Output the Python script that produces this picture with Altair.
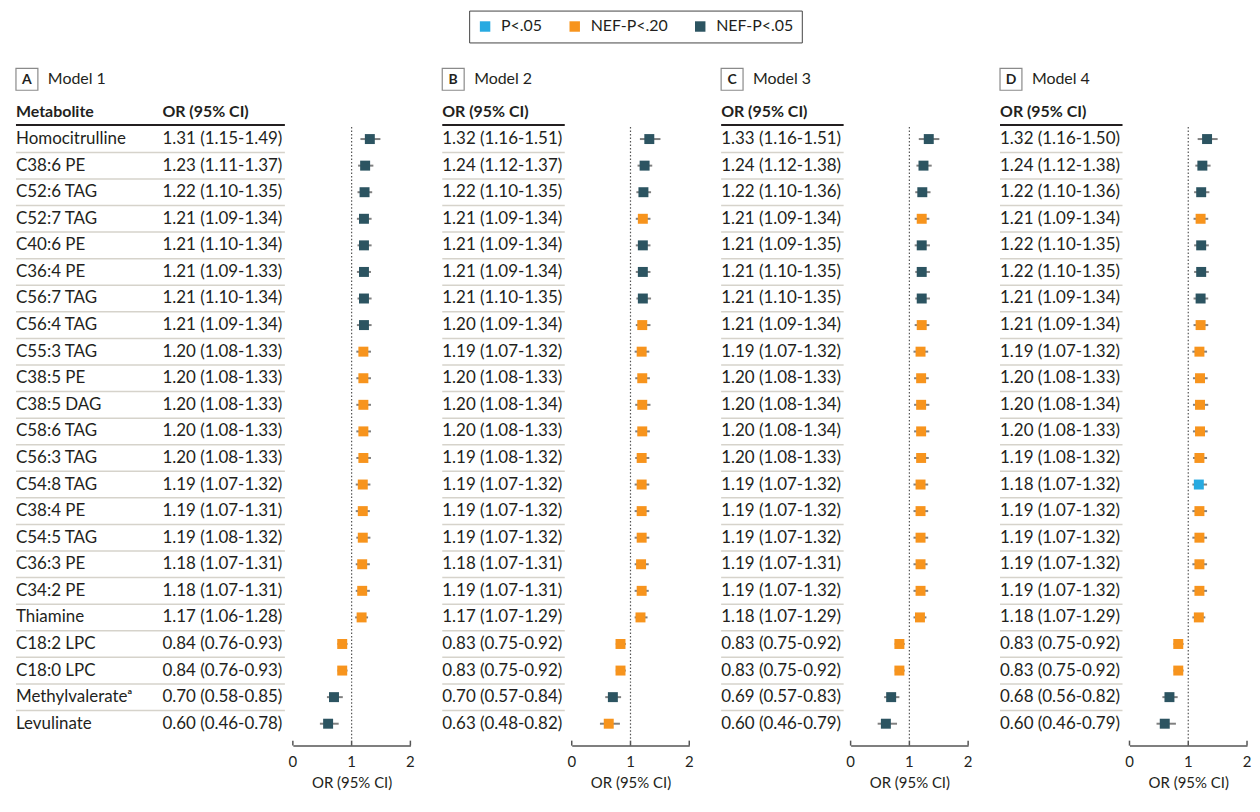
import altair as alt
import pandas as pd

# ---------------- data ----------------
metabolites = [
    "Homocitrulline", "C38:6 PE", "C52:6 TAG", "C52:7 TAG", "C40:6 PE", "C36:4 PE",
    "C56:7 TAG", "C56:4 TAG", "C55:3 TAG", "C38:5 PE", "C38:5 DAG", "C58:6 TAG",
    "C56:3 TAG", "C54:8 TAG", "C38:4 PE", "C54:5 TAG", "C36:3 PE", "C34:2 PE",
    "Thiamine", "C18:2 LPC", "C18:0 LPC", "Methylvalerate\u1d43", "Levulinate",
]

or_m1 = [1.31, 1.23, 1.22, 1.21, 1.21, 1.21, 1.21, 1.21, 1.20, 1.20, 1.20, 1.20, 1.20, 1.19, 1.19, 1.19, 1.18, 1.18, 1.17, 0.84, 0.84, 0.70, 0.60]
lo_m1 = [1.15, 1.11, 1.10, 1.09, 1.10, 1.09, 1.10, 1.09, 1.08, 1.08, 1.08, 1.08, 1.08, 1.07, 1.07, 1.08, 1.07, 1.07, 1.06, 0.76, 0.76, 0.58, 0.46]
hi_m1 = [1.49, 1.37, 1.35, 1.34, 1.34, 1.33, 1.34, 1.34, 1.33, 1.33, 1.33, 1.33, 1.33, 1.32, 1.31, 1.32, 1.31, 1.31, 1.28, 0.93, 0.93, 0.85, 0.78]

or_m2 = [1.32, 1.24, 1.22, 1.21, 1.21, 1.21, 1.21, 1.20, 1.19, 1.20, 1.20, 1.20, 1.19, 1.19, 1.19, 1.19, 1.18, 1.19, 1.17, 0.83, 0.83, 0.70, 0.63]
lo_m2 = [1.16, 1.12, 1.10, 1.09, 1.09, 1.09, 1.10, 1.09, 1.07, 1.08, 1.08, 1.08, 1.08, 1.07, 1.07, 1.07, 1.07, 1.07, 1.07, 0.75, 0.75, 0.57, 0.48]
hi_m2 = [1.51, 1.37, 1.35, 1.34, 1.34, 1.34, 1.35, 1.34, 1.32, 1.33, 1.34, 1.33, 1.32, 1.32, 1.32, 1.32, 1.31, 1.31, 1.29, 0.92, 0.92, 0.84, 0.82]

or_m3 = [1.33, 1.24, 1.22, 1.21, 1.21, 1.21, 1.21, 1.21, 1.19, 1.20, 1.20, 1.20, 1.20, 1.19, 1.19, 1.19, 1.19, 1.19, 1.18, 0.83, 0.83, 0.69, 0.60]
lo_m3 = [1.16, 1.12, 1.10, 1.09, 1.09, 1.10, 1.10, 1.09, 1.07, 1.08, 1.08, 1.08, 1.08, 1.07, 1.07, 1.07, 1.07, 1.07, 1.07, 0.75, 0.75, 0.57, 0.46]
hi_m3 = [1.51, 1.38, 1.36, 1.34, 1.35, 1.35, 1.35, 1.34, 1.32, 1.33, 1.34, 1.34, 1.33, 1.32, 1.32, 1.32, 1.31, 1.32, 1.29, 0.92, 0.92, 0.83, 0.79]

or_m4 = [1.32, 1.24, 1.22, 1.21, 1.22, 1.22, 1.21, 1.21, 1.19, 1.20, 1.20, 1.20, 1.19, 1.18, 1.19, 1.19, 1.19, 1.19, 1.18, 0.83, 0.83, 0.68, 0.60]
lo_m4 = [1.16, 1.12, 1.10, 1.09, 1.10, 1.10, 1.09, 1.09, 1.07, 1.08, 1.08, 1.08, 1.08, 1.07, 1.07, 1.07, 1.07, 1.07, 1.07, 0.75, 0.75, 0.56, 0.46]
hi_m4 = [1.50, 1.38, 1.36, 1.34, 1.35, 1.35, 1.34, 1.34, 1.32, 1.33, 1.34, 1.33, 1.32, 1.32, 1.32, 1.32, 1.32, 1.32, 1.29, 0.92, 0.92, 0.82, 0.79]

D, O, B = "NEF-P<.05", "NEF-P<.20", "P<.05"
sig_m1 = [D, D, D, D, D, D, D, D] + [O] * 13 + [D, D]
sig_m2 = [D, D, D, O, D, D, D, O] + [O] * 13 + [D, O]
sig_m3 = [D, D, D, O, D, D, D, O] + [O] * 13 + [D, D]
sig_m4 = [D, D, D, O, D, D, D, O] + [O] * 5 + [B] + [O] * 7 + [D, D]

SIG_DOMAIN = [B, O, D]
SIG_COLORS = ["#27aae1", "#f7941d", "#2c5461"]
tick_values = [0, 1, 2]
tick_labels = ["0", "1", "2"]

# ---------------- style ----------------
FONT = "Lato"
TXT = "#231f20"
AXC = "#555555"
H = 686
ROW_RANGE = [77, 664]

Y = alt.Y("metabolite:N", sort=metabolites,
          scale=alt.Scale(type="point", range=ROW_RANGE, padding=0), axis=None)


def make_x(field, frange):
    return alt.X(
        f"{field}:Q",
        scale=alt.Scale(domain=[0, 2], range=frange, nice=False, zero=False),
        axis=alt.Axis(values=tick_values, ticks=False, labels=False, grid=False,
                      domainColor=AXC, domainWidth=1.5,
                      title="OR (95% CI)", titleFont=FONT, titleFontSize=15,
                      titleFontWeight="normal", titleColor=TXT, titlePadding=30),
    )


def panel(letter, model, ors, los, his, sigs, with_names, legend):
    df = pd.DataFrame({"metabolite": metabolites, "or": ors, "lo": los,
                       "hi": his, "sig": sigs})
    df["label"] = [f"{o:.2f} ({l:.2f}-{h:.2f})" for o, l, h in zip(ors, los, his)]
    df["row"] = list(range(len(df)))
    head = pd.DataFrame({"letter": [letter], "model": [model]})
    ref = pd.DataFrame({"or": [1]})
    ticks = pd.DataFrame({"or": tick_values, "lab": tick_labels})

    if with_names:
        table_x, table_w, frange = 147, 270, [278, 396]
    else:
        table_x, table_w, frange = 0, 123, [130, 248]
    width = frange[1]

    base = alt.Chart(df)
    layers = []
    layers.append(
        base.transform_filter(alt.datum.row > 0)
        .mark_rule(color="#d6d3cb", strokeWidth=1.5, yOffset=-13.3)
        .encode(y=Y, x=alt.value(0), x2=alt.value(table_w))
    )
    layers.append(
        alt.Chart(head).mark_rule(color=TXT, strokeWidth=2)
        .encode(y=alt.value(63), x=alt.value(0), x2=alt.value(table_w))
    )
    layers.append(
        alt.Chart(head).mark_rect(fill="white", stroke="#8a8a8a", strokeWidth=1.2)
        .encode(x=alt.value(0), x2=alt.value(22), y=alt.value(6), y2=alt.value(28))
    )
    layers.append(
        alt.Chart(head).mark_text(font=FONT, fontSize=14, fontWeight="bold",
                                  color=TXT, align="center", baseline="middle")
        .encode(x=alt.value(11), y=alt.value(17.5), text="letter:N")
    )
    layers.append(
        alt.Chart(head).mark_text(font=FONT, fontSize=16, color=TXT,
                                  align="left", baseline="middle")
        .encode(x=alt.value(32), y=alt.value(17), text="model:N")
    )
    if with_names:
        layers.append(
            alt.Chart(head).mark_text(text="Metabolite", font=FONT, fontSize=16,
                                      fontWeight="bold", color=TXT,
                                      align="left", baseline="middle")
            .encode(x=alt.value(0), y=alt.value(50))
        )
        layers.append(
            base.mark_text(font=FONT, fontSize=17, color=TXT, align="left",
                           baseline="middle")
            .encode(y=Y, x=alt.value(0), text="metabolite:N")
        )
    layers.append(
        alt.Chart(head).mark_text(text="OR (95% CI)", font=FONT, fontSize=16,
                                  fontWeight="bold", color=TXT,
                                  align="left", baseline="middle")
        .encode(x=alt.value(table_x), y=alt.value(50))
    )
    layers.append(
        base.mark_text(font=FONT, fontSize=17, color=TXT, align="left",
                       baseline="middle")
        .encode(y=Y, x=alt.value(table_x), text="label:N")
    )
    # reference line at OR = 1
    layers.append(
        alt.Chart(ref).mark_rule(color="#555555", strokeWidth=1.2, strokeDash=[1.5, 2])
        .encode(x=make_x("or", frange), y=alt.value(65), y2=alt.value(679))
    )
    # axis ticks (pointing up) and tick labels
    layers.append(
        alt.Chart(ticks).mark_rule(color=AXC, strokeWidth=1.5)
        .encode(x=make_x("or", frange), y=alt.value(H - 5), y2=alt.value(H))
    )
    layers.append(
        alt.Chart(ticks).mark_text(font=FONT, fontSize=15, color=TXT,
                                   align="center", baseline="middle")
        .encode(x=make_x("or", frange), y=alt.value(H + 16), text="lab:N")
    )
    # CI
    layers.append(
        base.mark_rule(color="#808080", strokeWidth=2)
        .encode(x=make_x("lo", frange), x2="hi:Q", y=Y)
    )
    # point estimate
    layers.append(
        base.mark_square(size=100, opacity=1)
        .encode(x=make_x("or", frange), y=Y,
                color=alt.Color("sig:N",
                                scale=alt.Scale(domain=SIG_DOMAIN, range=SIG_COLORS),
                                legend=legend))
    )
    return alt.layer(*layers).properties(width=width, height=H)


leg = alt.Legend(title=None, orient="none", legendX=455, legendY=-52,
                 direction="horizontal", symbolType="square", symbolSize=110,
                 symbolStrokeWidth=0, labelFont=FONT, labelFontSize=16,
                 labelColor=TXT, columnPadding=24, labelOffset=8,
                 padding=8, strokeColor="#444444")

pA = panel("A", "Model 1", or_m1, lo_m1, hi_m1, sig_m1, True, leg)
pB = panel("B", "Model 2", or_m2, lo_m2, hi_m2, sig_m2, False, None)
pC = panel("C", "Model 3", or_m3, lo_m3, hi_m3, sig_m3, False, None)
pD = panel("D", "Model 4", or_m4, lo_m4, hi_m4, sig_m4, False, None)

chart = (
    alt.hconcat(pA, pB, pC, pD, spacing=32, bounds="flush")
    .properties(padding={"left": 7, "top": 0, "right": 0, "bottom": 5})
    .configure_view(stroke=None)
)

chart.save("out.html", embed_options={"renderer": "svg", "actions": False})
